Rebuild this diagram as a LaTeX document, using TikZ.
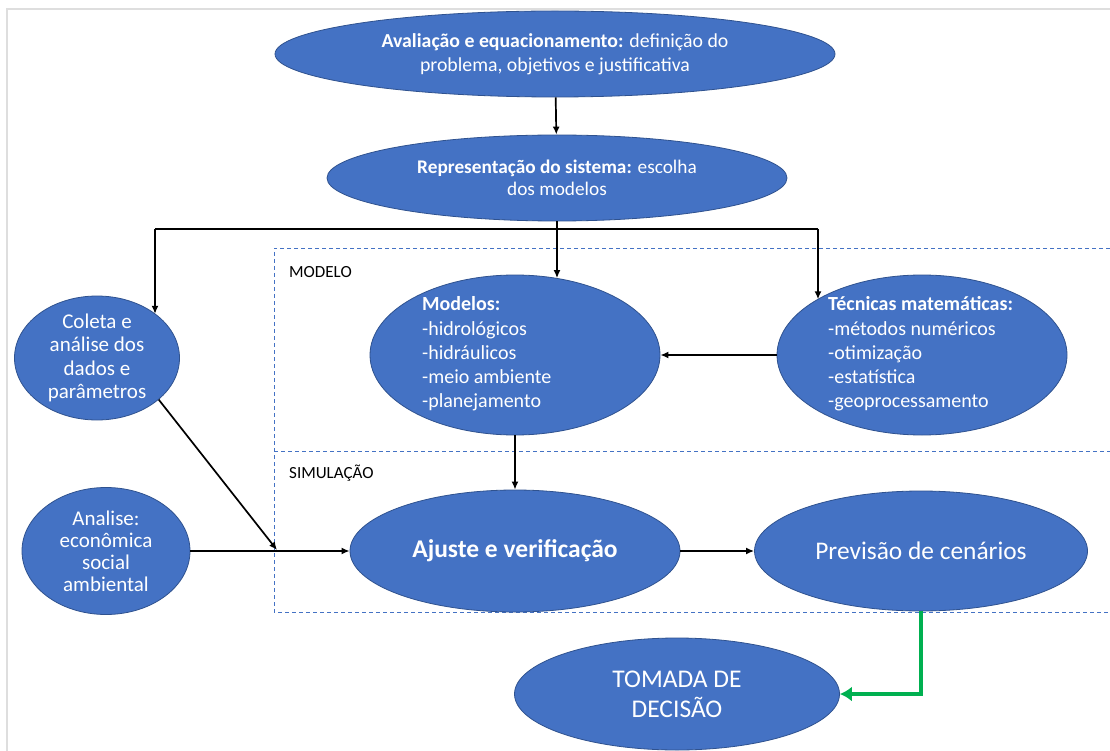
\documentclass[tikz,border=0pt]{standalone}
\usepackage{fontspec}
\setmainfont{Carlito}
\usetikzlibrary{shapes.geometric,arrows.meta}
\definecolor{officeblue}{RGB}{68,114,196}
\definecolor{blueedge}{RGB}{47,82,143}
\definecolor{okgreen}{RGB}{0,176,80}
\tikzset{
  blob/.style={ellipse, fill=officeblue, draw=blueedge, line width=0.8pt, inner sep=0pt},
  txt/.style={text=white, inner sep=0pt, font=\fontsize{20}{24.3}\selectfont},
  flow/.style={-{Latex[length=8pt,width=7pt]}, line width=1.7pt},
  zone/.style={draw=officeblue, dash pattern=on 4pt off 3pt, line width=0.9pt},
  tag/.style={anchor=west, inner sep=0pt, font=\fontsize{17}{20}\selectfont},
}
\begin{document}
\begin{tikzpicture}[x=1pt,y=-1pt]
      \useasboundingbox[fill=white] (0,0) rectangle (1110,751);
      \draw[black!13, line width=2.5pt] (7,751) -- (7,9) -- (1110,9);

      \draw[zone] (1110,248) -- (274,248) -- (274,612) -- (1110,612);
      \draw[zone] (274,451) -- (1110,451);
      \node[tag] (lblmodelo) at (289,272) {MODELO};
      \node[tag] (lblsimul) at (289,473) {SIMULAÇÃO};

      \node[blob, minimum width=560, minimum height=86] (aval) at (555,54) {};
      \node[txt, align=center, font=\fontsize{19.8}{24}\selectfont] (avaltxt) at (aval.center)
        {\textbf{Avaliação e equacionamento:} definição do\\ problema, objetivos e justificativa};
      \node[blob, minimum width=460, minimum height=86] (repr) at (557,178) {};
      \node[txt, align=center, font=\fontsize{19.3}{22}\selectfont] (reprtxt) at (repr.center)
        {\textbf{Representação do sistema:} escolha\\ dos modelos};

      \node[blob, minimum width=165, minimum height=124] (coleta) at (97,358) {};
      \node[txt, align=center, font=\fontsize{21}{23.3}\selectfont] (coletatxt) at (coleta.center)
        {Coleta e\\ análise dos\\ dados e\\ parâmetros};
      \node[blob, minimum width=290, minimum height=160] (modelos) at (515,355) {};
      \node[txt, align=left, anchor=west] (modelostxt) at (422,354)
        {\textbf{Modelos:}\\ -hidrológicos\\ -hidráulicos\\ -meio ambiente\\ -planejamento};
      \node[blob, minimum width=290, minimum height=160] (tecnicas) at (922,355) {};
      \node[txt, align=left, anchor=west] (tecnicastxt) at (828,354)
        {\textbf{Técnicas matemáticas:}\\ -métodos numéricos\\ -otimização\\ -estatística\\ -geoprocessamento};

      \node[blob, minimum width=168, minimum height=127] (analise) at (106,551) {};
      \node[txt, align=center, font=\fontsize{21}{22}\selectfont] (analisetxt) at (analise.center)
        {Analise:\\ econômica\\ social\\ ambiental};
      \node[blob, minimum width=330, minimum height=122] (ajuste) at (515,551) {};
      \node[txt, font=\fontsize{25.5}{28}\selectfont\bfseries] (ajustetxt) at (ajuste.center)
        {Ajuste e verificação};
      \node[blob, minimum width=333, minimum height=120] (previsao) at (921,551) {};
      \node[txt, font=\fontsize{25.4}{28}\selectfont] (previsaotxt) at (previsao.center)
        {Previsão de cenários};
      \node[blob, minimum width=325, minimum height=112] (tomada) at (677,694) {};
      \node[txt, align=center, font=\fontsize{25.5}{30}\selectfont] (tomadatxt) at (tomada.center)
        {TOMADA DE\\ DECISÃO};

      \coordinate (busL) at (155,229);
      \coordinate (busR) at (818,229);
      \coordinate (jn) at (277,550);

      \draw[flow] (aval) -- (repr);
      \draw[line width=1.7pt] (busL) -- (busR);
      \draw[flow] (repr.south) -- (repr.south |- modelos.61);
      \draw[flow] (busL) -- (busL |- coleta.37);
      \draw[flow] (busR) -- (busR |- tecnicas.152);
      \draw[flow] (tecnicas.west) -- (modelos.east);
      \draw[flow] (modelos.south) -- (ajuste.north);
      \draw[flow] (coleta.-34) -- (jn);
      \draw[flow] (analise.east) -- (ajuste.west);
      \draw[flow] (ajuste.east) -- (previsao.west);
      \draw[okgreen, line width=4pt, -{Latex[length=12pt,width=15pt]}] (previsao.south) |- (tomada.east);
    \end{tikzpicture}
\end{document}
